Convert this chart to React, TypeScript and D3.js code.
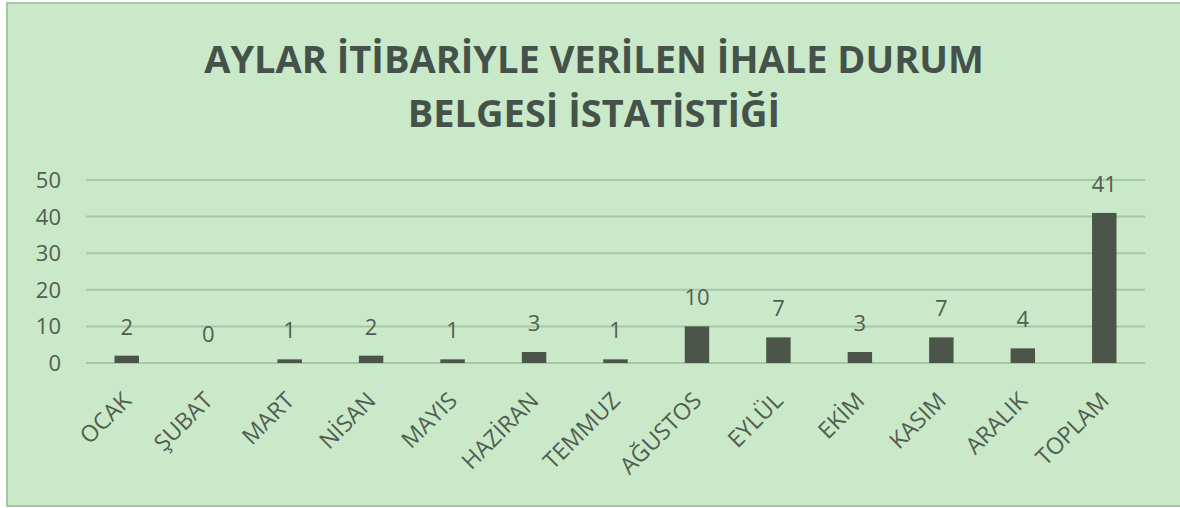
import React, { useRef, useEffect } from 'react'
import * as d3 from 'd3'

// month categories (turkish) + total
const months = ['OCAK', 'ŞUBAT', 'MART', 'NİSAN', 'MAYIS', 'HAZİRAN', 'TEMMUZ', 'AĞUSTOS', 'EYLÜL', 'EKİM', 'KASIM', 'ARALIK', 'TOPLAM']
const counts = [2, 0, 1, 2, 1, 3, 1, 10, 7, 3, 7, 4, 41]
const yTicks = [0, 10, 20, 30, 40, 50]
const titleLines = ['AYLAR İTİBARİYLE VERİLEN İHALE DURUM', 'BELGESİ İSTATİSTİĞİ']

const W = 1180
const H = 508

const App = () => {
  const ref = useRef<SVGSVGElement>(null)

  useEffect(() => {
    const svg = d3.select(ref.current)
    svg.selectAll('*').remove()

    var font = "'Open Sans', sans-serif"
    var textCol = '#515e52'

    // background panel
    svg.append('rect')
      .attr('x', 7).attr('y', 3)
      .attr('width', W).attr('height', 503)
      .attr('fill', '#c9e9c9')
      .attr('stroke', '#a6c4a6')
      .attr('stroke-width', 2)

    // title
    svg.append('g').selectAll('text')
      .data(titleLines)
      .enter().append('text')
      .attr('x', 594)
      .attr('y', (d, i) => 73 + i * 54)
      .attr('text-anchor', 'middle')
      .attr('font-family', font)
      .attr('font-weight', 'bold')
      .attr('font-size', 38)
      .attr('fill', '#45524a')
      .text(d => d)

    var x = d3.scaleBand()
      .domain(months)
      .range([86, 1145])
      .paddingInner(0.7)
      .paddingOuter(0.35)

    var y = d3.scaleLinear()
      .domain([0, 50])
      .range([363, 180])

    // gridlines
    svg.append('g').selectAll('line')
      .data(yTicks)
      .enter().append('line')
      .attr('x1', 86).attr('x2', 1145)
      .attr('y1', d => y(d)).attr('y2', d => y(d))
      .attr('stroke', '#a8c7a8')
      .attr('stroke-width', 2)

    // y labels
    svg.append('g').selectAll('text')
      .data(yTicks)
      .enter().append('text')
      .attr('x', 61)
      .attr('y', d => y(d) + 8)
      .attr('text-anchor', 'end')
      .attr('font-family', font)
      .attr('font-size', 22)
      .attr('fill', textCol)
      .text(d => d)

    // bars
    svg.append('g').selectAll('rect')
      .data(counts)
      .enter().append('rect')
      .attr('x', (d, i) => x(months[i]))
      .attr('y', d => y(d))
      .attr('width', x.bandwidth())
      .attr('height', d => y(0) - y(d))
      .attr('fill', '#4b5549')

    // value labels
    svg.append('g').selectAll('text')
      .data(counts)
      .enter().append('text')
      .attr('x', (d, i) => x(months[i]) + x.bandwidth() / 2)
      .attr('y', d => y(d) - 21)
      .attr('text-anchor', 'middle')
      .attr('font-family', font)
      .attr('font-size', 22)
      .attr('fill', textCol)
      .text(d => d)

    // category labels, rotated
    svg.append('g').selectAll('text')
      .data(months)
      .enter().append('text')
      .attr('transform', d => 'translate(' + (x(d) + x.bandwidth() / 2 + 6) + ',' + 402 + ') rotate(-45)')
      .attr('text-anchor', 'end')
      .attr('font-family', font)
      .attr('font-size', 23)
      .attr('fill', textCol)
      .text(d => d)
  }, [])

  return (
    <svg ref={ref} width={W} height={H} style={{ position: 'absolute', left: 0, top: 0, display: 'block' }} />
  )
}

export default App
